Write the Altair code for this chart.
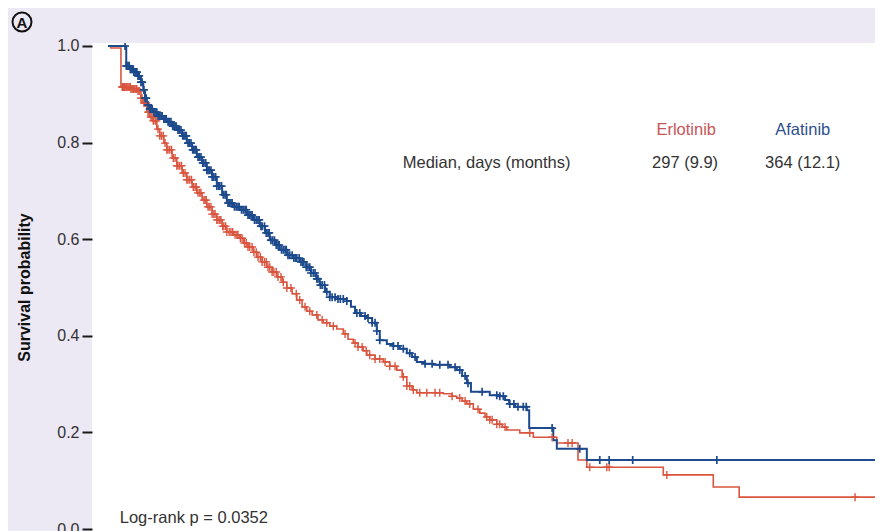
import bisect
import altair as alt
import pandas as pd

# ---- Kaplan-Meier steps (time in days, survival probability) ----
afa_t = [0, 31, 37, 44, 51, 56, 60, 63, 66, 71, 77, 85, 94, 100, 109, 117, 126, 134, 143, 151,
         160, 168, 177, 185, 194, 202, 213, 224, 236, 247, 258, 267, 275, 284, 292, 304, 315, 326,
         337, 345, 354, 360, 369, 377, 391, 406, 413, 420, 430, 440, 449, 457, 462, 474, 485, 496,
         508, 517, 525, 539, 553, 581, 593, 602, 610, 617, 649, 666, 675, 682, 692, 712, 716, 757,
         763, 814, 1317]
afa_s = [1.000, 0.959, 0.952, 0.946, 0.938, 0.925, 0.909, 0.892, 0.878, 0.870, 0.863, 0.855, 0.849,
         0.843, 0.834, 0.826, 0.814, 0.799, 0.785, 0.770, 0.758, 0.743, 0.729, 0.710, 0.692, 0.675,
         0.667, 0.661, 0.650, 0.640, 0.627, 0.613, 0.598, 0.588, 0.578, 0.567, 0.561, 0.553, 0.542,
         0.530, 0.518, 0.505, 0.491, 0.480, 0.476, 0.472, 0.460, 0.447, 0.441, 0.437, 0.427, 0.410,
         0.391, 0.383, 0.379, 0.373, 0.364, 0.356, 0.346, 0.342, 0.340, 0.335, 0.329, 0.317, 0.302,
         0.284, 0.277, 0.275, 0.267, 0.259, 0.253, 0.246, 0.209, 0.184, 0.166, 0.143, 0.143]

erl_t = [0, 5, 22, 39, 51, 56, 60, 66, 71, 77, 83, 88, 95, 100, 109, 117, 126, 134, 143, 151, 160,
         168, 177, 185, 194, 202, 213, 224, 231, 238, 247, 253, 262, 270, 279, 287, 296, 304, 313,
         321, 330, 338, 347, 357, 366, 377, 389, 400, 408, 417, 425, 434, 440, 454, 468, 479, 491,
         500, 508, 517, 525, 570, 585, 593, 602, 610, 621, 632, 641, 649, 661, 670, 678, 700, 723,
         763, 799, 814, 944, 1029, 1073, 1317]
erl_s = [1.000, 0.996, 0.915, 0.911, 0.907, 0.892, 0.882, 0.863, 0.853, 0.845, 0.828, 0.814, 0.799,
         0.785, 0.768, 0.752, 0.737, 0.723, 0.708, 0.696, 0.681, 0.667, 0.652, 0.640, 0.627, 0.615,
         0.609, 0.602, 0.592, 0.584, 0.573, 0.563, 0.553, 0.542, 0.532, 0.522, 0.511, 0.499, 0.487,
         0.474, 0.460, 0.451, 0.443, 0.433, 0.427, 0.420, 0.414, 0.404, 0.393, 0.385, 0.377, 0.369,
         0.360, 0.352, 0.346, 0.337, 0.329, 0.315, 0.296, 0.288, 0.282, 0.280, 0.275, 0.271, 0.265,
         0.259, 0.248, 0.240, 0.232, 0.226, 0.217, 0.211, 0.205, 0.199, 0.190, 0.178, 0.143, 0.128,
         0.112, 0.087, 0.066, 0.066]

# ---- censoring times (days) ----
afa_cens = [29, 31, 32, 34, 36, 38, 39, 41, 43, 44, 46, 48, 49, 51, 53, 56, 58, 61, 63, 65, 68, 71,
            73, 75, 78, 80, 83, 85, 87, 90, 92, 95, 97, 99, 102, 104, 107, 110, 112, 114, 116, 119,
            121, 124, 127, 129, 131, 133, 136, 138, 141, 144, 146, 148, 150, 153, 155, 158, 161, 163,
            166, 168, 170, 172, 175, 177, 180, 183, 185, 188, 190, 193, 196, 199, 201, 204, 206, 209,
            211, 215, 218, 221, 223, 227, 230, 233, 235, 238, 240, 243, 245, 249, 252, 255, 257, 260,
            262, 266, 269, 272, 274, 277, 280, 283, 286, 289, 291, 295, 298, 301, 303, 306, 309, 313,
            316, 319, 321, 325, 328, 331, 333, 337, 340, 343, 345, 349, 352, 355, 357, 361, 364, 368,
            372, 377, 381, 386, 391, 395, 400, 406, 423, 428, 437, 442, 449, 454, 457, 462, 485, 493,
            502, 513, 522, 539, 551, 564, 578, 590, 598, 607, 612, 636, 661, 666, 672, 683, 690, 697,
            706, 711, 755, 802, 836, 852, 892, 1035, 1306]
erl_cens = [24, 25, 26, 28, 29, 31, 32, 34, 36, 38, 39, 41, 43, 44, 46, 48, 49, 51, 53, 56, 58, 61,
            63, 65, 68, 70, 73, 75, 77, 80, 82, 85, 88, 91, 94, 97, 100, 102, 105, 108, 111, 114, 117,
            119, 122, 125, 128, 131, 134, 136, 139, 142, 145, 148, 150, 153, 156, 158, 163, 165, 167,
            170, 172, 175, 177, 180, 182, 185, 187, 190, 192, 195, 197, 200, 202, 206, 209, 212, 216,
            219, 221, 225, 228, 232, 235, 238, 241, 245, 248, 252, 255, 259, 262, 266, 269, 272, 275,
            279, 282, 286, 289, 294, 298, 304, 311, 320, 326, 335, 343, 355, 364, 372, 383, 403, 420,
            425, 432, 439, 445, 454, 462, 471, 479, 488, 502, 508, 513, 519, 530, 542, 556, 564, 585,
            598, 607, 615, 629, 644, 649, 653, 661, 666, 675, 717, 755, 782, 789, 819, 848, 852, 950,
            1270, 1312]

y_ticks = [0, 0.2, 0.4, 0.6, 0.8, 1.0]


def surv_at(times, surv, c):
    i = bisect.bisect_right(times, c) - 1
    return surv[max(i, 0)]


afa = pd.DataFrame({"t": afa_t, "s": afa_s})
erl = pd.DataFrame({"t": erl_t, "s": erl_s})
afa_c = pd.DataFrame({"t": afa_cens, "s": [surv_at(afa_t, afa_s, c) for c in afa_cens]})
erl_c = pd.DataFrame({"t": erl_cens, "s": [surv_at(erl_t, erl_s, c) for c in erl_cens]})

RED = "#d9553f"
BLUE = "#1d4a8c"
FONT = "Liberation Sans"
TXT = "#333333"

xs = alt.Scale(domain=[-27.2, 1303.9], nice=False, zero=False)
ys = alt.Scale(domain=[-0.0041, 1.0062], nice=False, zero=False)

X = alt.X("t:Q", scale=xs, axis=None)
Y = alt.Y("s:Q", scale=ys, axis=alt.Axis(
    values=y_ticks, format=".1f", title="Survival probability",
    domain=False, grid=False, ticks=True, tickSize=10, tickWidth=2, tickColor="#1a1a1a",
    labelFontSize=16, labelColor=TXT, labelFont=FONT, labelPadding=3,
    titleFontSize=16, titleFont=FONT, titleFontWeight="bold", titleColor="#111111",
    titlePadding=24))

erl_line = alt.Chart(erl).mark_line(interpolate="step-after", color=RED, strokeWidth=1.6,
                                    clip=True).encode(x=X, y=Y)
afa_line = alt.Chart(afa).mark_line(interpolate="step-after", color=BLUE, strokeWidth=2,
                                    clip=True).encode(x=X, y=Y)
CROSS = "M-1,0H1M0,-1V1"
erl_pts = alt.Chart(erl_c).mark_point(shape=CROSS, filled=False, color=RED, strokeWidth=1.4,
                                      size=64, opacity=1, clip=True).encode(x=X, y=Y)
afa_pts = alt.Chart(afa_c).mark_point(shape=CROSS, filled=False, color=BLUE, strokeWidth=1.7,
                                      size=64, opacity=1, clip=True).encode(x=X, y=Y)

ann = pd.DataFrame({
    "t": [501, 983, 1181, 981, 1181, 20],
    "s": [0.758, 0.826, 0.826, 0.758, 0.758, 0.023],
    "label": ["Median, days (months)", "Erlotinib", "Afatinib", "297 (9.9)", "364 (12.1)",
              "Log-rank p = 0.0352"],
    "col": [TXT, "#c85558", "#2d4f8e", TXT, TXT, TXT],
    "al": ["left", "center", "center", "center", "center", "left"],
})


def txt(df, align):
    return alt.Chart(df).mark_text(align=align, baseline="middle", fontSize=16.5, font=FONT).encode(
        x=X, y=Y, text="label:N", color=alt.Color("col:N", scale=None))


left_txt = txt(ann[ann["al"] == "left"], "left")
center_txt = txt(ann[ann["al"] == "center"], "center")

badge = pd.DataFrame({"a": ["A"]})
circ = alt.Chart(badge).mark_point(shape="circle", size=360, filled=False, stroke="#111111",
                                   strokeWidth=2, opacity=1).encode(
    x=alt.value(-70), y=alt.value(-21))
letter = alt.Chart(badge).mark_text(fontSize=15, fontWeight="bold", font=FONT, color="#111111",
                                    baseline="middle", align="center").encode(
    x=alt.value(-70), y=alt.value(-20), text="a:N")

chart = alt.layer(erl_line, afa_line, erl_pts, afa_pts, left_txt, center_txt, circ, letter).properties(
    width=783, height=488,
    autosize=alt.AutoSizeParams(type="none"),
    padding={"left": 84, "top": 35, "right": 0, "bottom": 0},
    background="#ece8f4",
).configure_view(stroke=None, fill="white")

chart.save("out.html", embed_options={"renderer": "svg", "actions": False})
